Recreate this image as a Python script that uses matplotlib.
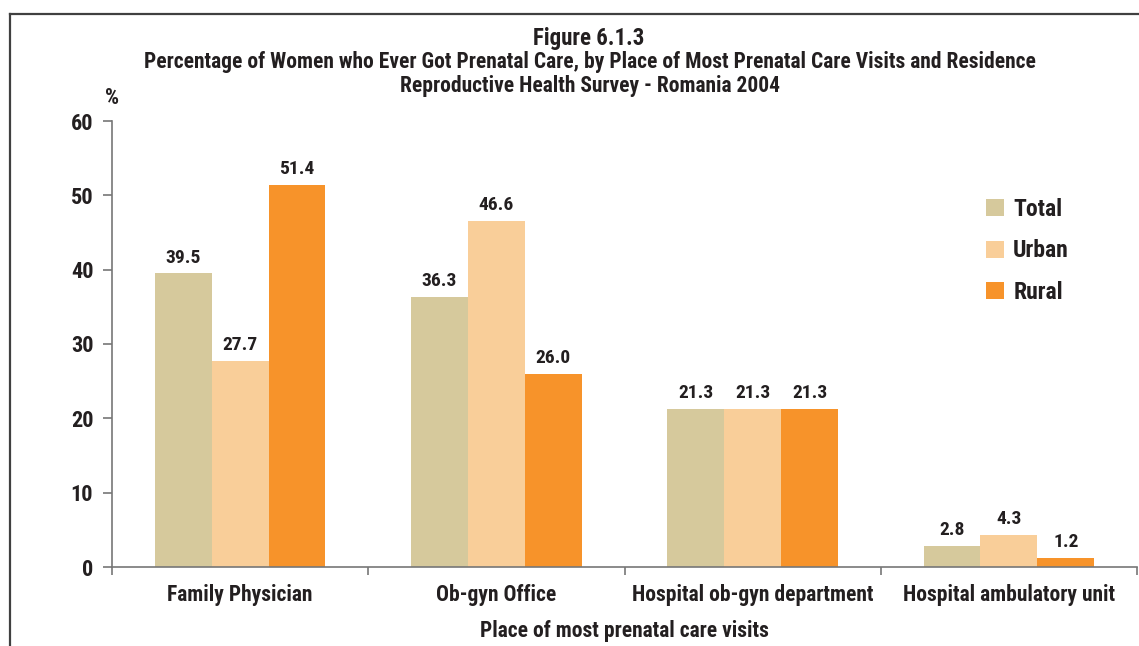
import matplotlib
matplotlib.use("Agg")
import matplotlib.pyplot as plt
from matplotlib.lines import Line2D
from matplotlib.patches import Patch
import numpy as np

categories = ["Family Physician", "Ob-gyn Office", "Hospital ob-gyn department", "Hospital ambulatory unit"]
series_names = ["Total", "Urban", "Rural"]
total = [39.5, 36.3, 21.3, 2.8]
urban = [27.7, 46.6, 21.3, 4.3]
rural = [51.4, 26.0, 21.3, 1.2]
yticks = [0, 10, 20, 30, 40, 50, 60]
colors = ["#D6C99C", "#F9CE99", "#F7932A"]

FONT = ["Roboto Condensed", "PT Sans Narrow", "DejaVu Sans"]
plt.rcParams['font.family'] = FONT
plt.rcParams['font.weight'] = 'bold'
TXT = "#231F20"

fig = plt.figure(figsize=(11.39, 6.46), dpi=100)
ax = fig.add_axes([112/1139, 1-567/646, (1137-112)/1139, (567-121)/646])

x = np.arange(len(categories)) + 0.5
w = 0.222
for i, (vals, c) in enumerate(zip([total, urban, rural], colors)):
    pos = x + (i - 1) * w
    ax.bar(pos, vals, width=w, color=c, label=series_names[i], zorder=2)
    for p, v in zip(pos, vals):
        ax.text(p, v + 0.9, f"{v:.1f}", ha="center", va="bottom", fontsize=14,
                fontweight="bold", color=TXT)

ax.set_xlim(0, 4)
ax.set_ylim(0, 60)
ax.set_yticks(yticks)
ax.set_yticklabels([str(t) for t in yticks], fontsize=16, fontweight="bold", color=TXT)
ax.set_xticks([0, 1, 2, 3, 4])
ax.set_xticklabels([])
ax.set_xticks(x, minor=True)
ax.set_xticklabels(categories, minor=True, fontsize=15.5, fontweight="bold", color=TXT)
ax.tick_params(axis="x", which="minor", length=0, pad=12)
ax.tick_params(axis="x", which="major", length=6, direction="out", color="#777777", width=1.2)
ax.tick_params(axis="y", length=6.5, direction="out", color="#777777", width=1.2, pad=7)
for s in ["top", "right"]:
    ax.spines[s].set_visible(False)
for s in ["left", "bottom"]:
    ax.spines[s].set_color("#777777")
    ax.spines[s].set_linewidth(1.2)

ax.set_xlabel("Place of most prenatal care visits", fontsize=15.5, fontweight="bold",
              color=TXT, labelpad=10)

handles = [Patch(facecolor=c, edgecolor="none") for c in colors]
ax.legend(handles, series_names, loc="upper left", bbox_to_anchor=(0.832, 0.875),
          frameon=False, handlelength=0.75, handleheight=0.75,
          handletextpad=0.4, labelspacing=0.78,
          prop={"weight": "bold", "size": 17, "family": FONT})
for t in ax.get_legend().get_texts():
    t.set_color(TXT)

fig.text(589/1139, 1-38/646, "Figure 6.1.3", ha="center", va="center", fontsize=16.5,
         fontweight="bold", color=TXT)
fig.text(590/1139, 1-62/646,
         "Percentage of Women who Ever Got Prenatal Care, by Place of Most Prenatal Care Visits and Residence",
         ha="center", va="center", fontsize=15.5, fontweight="bold", color=TXT)
fig.text(590/1139, 1-86/646, "Reproductive Health Survey - Romania 2004", ha="center",
         va="center", fontsize=15.5, fontweight="bold", color=TXT)
fig.text(112/1139, 1-98/646, "%", ha="center", va="center", fontsize=16,
         fontweight="bold", color=TXT)

# frame
fig.add_artist(Line2D([10/1139, 10/1139], [0, 1-14/646], color="#404040", lw=1.6,
                      transform=fig.transFigure))
fig.add_artist(Line2D([10/1139, 1], [1-14/646, 1-14/646], color="#404040", lw=1.6,
                      transform=fig.transFigure))

fig.savefig("out.png", dpi=100)
